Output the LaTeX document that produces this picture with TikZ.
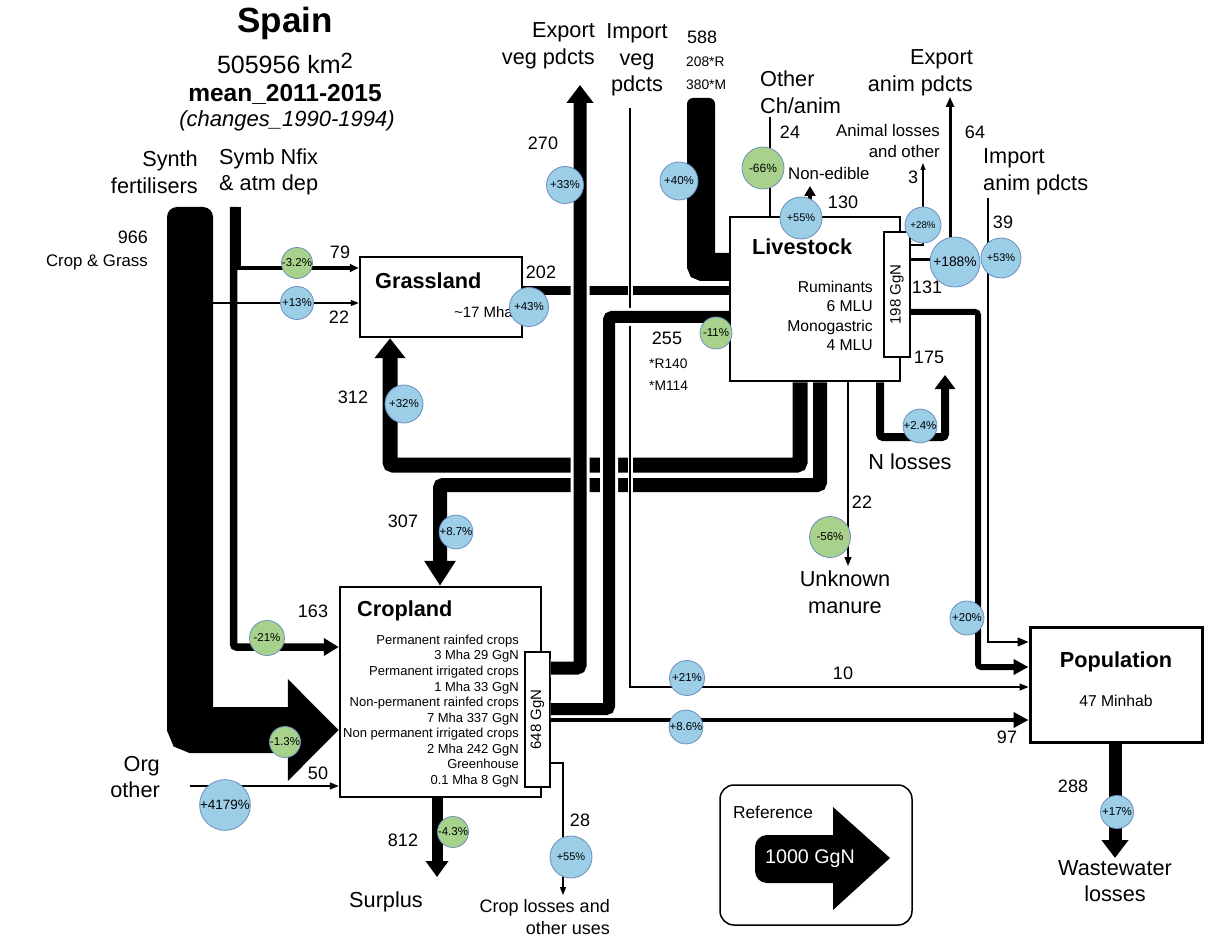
\documentclass[tikz,border=0pt]{standalone}
\usepackage{fontspec}
\setmainfont{Liberation Sans}
\usepackage{graphicx}
\usetikzlibrary{arrows.meta}

\definecolor{pctblue}{RGB}{156,206,231}
\definecolor{pctgreen}{RGB}{168,210,140}
\definecolor{pctedge}{RGB}{108,142,191}

\begin{document}
\begin{tikzpicture}[x=1pt, y=-1pt,
    box/.style={draw, line width=2.5pt, fill=white, inner sep=0pt},
    gbox/.style={draw, line width=1.2pt, fill=white, inner sep=0pt,
                 font=\fontsize{15}{18}\selectfont},
    pcb/.style={circle, draw=pctedge, fill=pctblue, line width=0.8pt,
                inner sep=0pt, minimum size=#1, font=\fontsize{11.5}{12}\selectfont},
    pcg/.style={pcb=#1, fill=pctgreen},
    lab/.style={inner sep=0pt, font=\fontsize{21.7}{26.5}\selectfont},
    num/.style={inner sep=0pt, font=\fontsize{18}{22}\selectfont},
    sml/.style={inner sep=0pt, font=\fontsize{16.8}{21}\selectfont},
    tny/.style={inner sep=0pt, font=\fontsize{13.8}{17}\selectfont},
    halo/.style={preaction={draw=white, line width=#1, -}},
    flow/.style={draw, line width=#1, line cap=butt}]
  \useasboundingbox (0,0) rectangle (1232,941);

  % title
  \node[inner sep=0pt, font=\bfseries\fontsize{35}{40}\selectfont] (title) at (285,23) {Spain};
  \node[inner sep=0pt, font=\fontsize{25}{30}\selectfont] (area) at (285,63)
       {505956 km\raisebox{5pt}{\fontsize{22}{22}\selectfont 2}};
  \node[inner sep=0pt, font=\bfseries\fontsize{24.5}{30}\selectfont] (period) at (285,94) {mean\_2011-2015};
  \node[inner sep=0pt, font=\itshape\fontsize{22}{26}\selectfont] (change) at (287,121) {(changes\_1990-1994)};

  % boxes
  \node[box, minimum width=162pt, minimum height=80pt] (grass) at (441,297) {};
  \node[box, minimum width=170pt, minimum height=164pt] (live) at (815,299) {};
  \node[box, minimum width=201pt, minimum height=210pt] (crop) at (440.5,692) {};
  \node[box, line width=3pt, minimum width=172pt, minimum height=115pt] (pop) at (1116,684.5) {};

  % synthetic fertilisers
  \fill[rounded corners=10pt] (167,207) rectangle (213,245);
  \coordinate (sf) at (190,235);
  \coordinate (sfy) at (0,730);
  \draw[flow=46pt, rounded corners=4pt, -{Triangle[width=99pt,length=51pt]}]
       (sf) |- (crop.west |- sfy);
  \coordinate (s22) at (213,303);
  \draw[flow=1.2pt, -{Triangle[width=6pt,length=8pt]}] (s22) -- (grass.west |- s22);

  % symbiotic fixation
  \coordinate (sy) at (233.5,207);
  \coordinate (sy163) at (0,647);
  \draw[flow=7.5pt, rounded corners=3pt, -{Triangle[width=17pt,length=15pt]}]
       (sy) |- (crop.west |- sy163);
  \coordinate (sy79) at (239,207);
  \coordinate (g79) at (0,268);
  \draw[flow=3.5pt, -{Triangle[width=8pt,length=9pt]}] (sy79) |- (grass.west |- g79);

  % organic other
  \coordinate (org) at (190,786);
  \draw[flow=1.5pt, -{Triangle[width=7pt,length=9pt]}] (org) -- (crop.west |- org);

  % manure to grassland and cropland
  \coordinate (m1) at (800,465);
  \coordinate (m2) at (390,465);
  \draw[flow=15pt, rounded corners=3pt, -{Triangle[width=30pt,length=20pt]}]
       (live.south -| m1) -- (m1) -- (m2) -- (grass.south -| m2);
  \coordinate (n1) at (820,485);
  \coordinate (n2) at (440,485);
  \draw[flow=14pt, rounded corners=3pt, -{Triangle[width=30pt,length=25pt]}]
       (live.south -| n1) -- (n1) -- (n2) -- (crop.north -| n2);

  % grassland to livestock
  \coordinate (g202) at (0,291);
  \draw[flow=9pt] (grass.east |- g202) -- (live.west |- g202);

  % imported feed
  \fill[rounded corners=6pt] (687,98) rectangle (715,125);
  \coordinate (imf) at (701,118);
  \coordinate (imf2) at (0,267);
  \draw[flow=28pt, rounded corners=2pt] (imf) |- (live.west |- imf2);

  % GgN boxes
  \node[gbox, minimum width=26pt, minimum height=125pt] (liveg) at (897,294.5) {\rotatebox{90}{198 GgN}};
  \node[gbox, minimum width=25pt, minimum height=135pt] (cropg) at (537.5,719.5) {\rotatebox{90}{648 GgN}};

  % crop exports, imports and feed
  \coordinate (ev) at (580,85);
  \coordinate (ev2) at (0,668);
  \draw[flow=13pt, halo=19pt, rounded corners=3pt, -{Triangle[width=26pt,length=18pt]}]
       (cropg.east |- ev2) -| (ev);
  \coordinate (iv) at (630,108);
  \coordinate (iv2) at (0,687);
  \draw[flow=1.2pt, halo=5pt, -{Triangle[width=7pt,length=9pt]}] (iv) |- (pop.west |- iv2);
  \coordinate (fd) at (609,317);
  \coordinate (fd2) at (0,709);
  \draw[flow=12pt, halo=18pt, rounded corners=3pt]
       (cropg.east |- fd2) -| (fd) -- (live.west |- fd);

  % cropland outputs
  \coordinate (c97) at (0,720);
  \draw[flow=4.5pt, -{Triangle[width=15pt,length=15pt]}] (cropg.east |- c97) -- (pop.west |- c97);
  \coordinate (cl) at (563,895);
  \coordinate (cl2) at (0,763);
  \draw[flow=1.2pt, -{Triangle[width=6pt,length=8pt]}] (cropg.east |- cl2) -| (cl);
  \coordinate (sp) at (437,877);
  \draw[flow=11pt, -{Triangle[width=22pt,length=16pt]}] (crop.south -| sp) -- (sp);
  \coordinate (ww) at (1115,858);
  \draw[flow=13pt, -{Triangle[width=26pt,length=18pt]}] (pop.south -| ww) -- (ww);

  % livestock flows
  \coordinate (oc) at (770,117);
  \draw[flow=1.3pt] (oc) -- (live.north -| oc);
  \coordinate (ne) at (810,186);
  \draw[flow=3.5pt, -{Triangle[width=11pt,length=10pt]}] (live.north -| ne) -- (ne);
  \coordinate (al) at (923,163);
  \coordinate (al2) at (0,245);
  \draw[flow=1.2pt, -{Triangle[width=5pt,length=7pt]}] (liveg.east |- al2) -| (al);
  \coordinate (ea) at (950,97);
  \coordinate (ea2) at (0,260);
  \draw[flow=3pt, -{Triangle[width=8pt,length=10pt]}] (liveg.east |- ea2) -| (ea);
  \coordinate (ia) at (988,198);
  \coordinate (ia2) at (0,642);
  \draw[flow=1.3pt, -{Triangle[width=9pt,length=11pt]}] (ia) |- (pop.west |- ia2);
  \coordinate (lp) at (978,312);
  \coordinate (lp2) at (0,667);
  \draw[flow=6pt, rounded corners=3pt, -{Triangle[width=15pt,length=15pt]}]
       (liveg.east |- lp) -- (lp) |- (pop.west |- lp2);
  \coordinate (nl1) at (880,437);
  \coordinate (nl2) at (945,375);
  \draw[flow=8pt, rounded corners=3pt, -{Triangle[width=20pt,length=14pt]}]
       (live.south -| nl1) -- (nl1) -| (nl2);
  \coordinate (um) at (848,566);
  \draw[flow=1.2pt, -{Triangle[width=7pt,length=9pt]}] (live.south -| um) -- (um);

  % box texts
  \node[inner sep=0pt, anchor=west, font=\bfseries\fontsize{21.7}{26}\selectfont] (grasst) at (375,281) {Grassland};
  \node[inner sep=0pt, anchor=east, font=\fontsize{15}{18}\selectfont] (grassa) at (513,312) {\textasciitilde 17 Mha};
  \node[inner sep=0pt, anchor=west, font=\bfseries\fontsize{21.7}{26}\selectfont] (livet) at (752,247) {Livestock};
  \node[inner sep=0pt, anchor=east, align=right, font=\fontsize{15.7}{19.3}\selectfont] (livei) at (873,316)
       {Ruminants\\6 MLU\\Monogastric\\4 MLU};
  \node[inner sep=0pt, anchor=west, font=\bfseries\fontsize{21.7}{26}\selectfont] (cropt) at (357,611) {Cropland};
  \node[inner sep=0pt, anchor=east, align=right, font=\fontsize{13}{15.55}\selectfont] (cropi) at (519,711)
       {Permanent rainfed crops\\3 Mha 29 GgN\\Permanent irrigated crops\\1 Mha 33 GgN\\
        Non-permanent rainfed crops\\7 Mha 337 GgN\\Non permanent irrigated crops\\2 Mha 242 GgN\\
        Greenhouse\\0.1 Mha 8 GgN};
  \node[inner sep=0pt, font=\bfseries\fontsize{21.7}{26}\selectfont] (popt) at (1116,662) {Population};
  \node[inner sep=0pt, font=\fontsize{15.7}{19}\selectfont] (popn) at (1116,701) {47 Minhab};

  % end labels
  \node[lab, anchor=east, align=right] (synth) at (198,172) {Synth\\fertilisers};
  \node[lab, anchor=west, align=left] (symb) at (219,172) {Symb Nfix\\\& atm dep};
  \node[lab, anchor=east, align=right] (expveg) at (595,46) {Export\\veg pdcts};
  \node[lab, align=center] (impveg) at (637,60) {Import\\veg\\pdcts};
  \node[lab, anchor=west, align=left] (other) at (760,92) {Other\\Ch/anim};
  \node[sml, anchor=west] (nonedi) at (788,173) {Non-edible};
  \node[sml, anchor=east, align=right] (anloss) at (940,141) {Animal losses\\and other};
  \node[lab, anchor=east, align=right] (expanim) at (973,73) {Export\\anim pdcts};
  \node[lab, anchor=west, align=left] (impanim) at (983,172) {Import\\anim pdcts};
  \node[lab] (nloss) at (910,462) {N losses};
  \node[lab, align=center] (unkman) at (845,592) {Unknown\\manure};
  \node[lab, align=center] (wwl) at (1115,881) {Wastewater\\losses};
  \node[lab] (surplus) at (386,902) {Surplus};
  \node[inner sep=0pt, anchor=east, align=right, font=\fontsize{18}{22}\selectfont] (closs) at (610,917)
       {Crop losses and\\other uses};
  \node[lab, anchor=east, align=right] (orgl) at (160,777) {Org\\other};

  % flow values
  \node[num, anchor=east] (v966) at (148,237) {966};
  \node[sml, anchor=east] (v966b) at (148,262) {Crop \& Grass};
  \node[num] (v79) at (340,252) {79};
  \node[num] (v22) at (339,317) {22};
  \node[num] (v202) at (541,272) {202};
  \node[num] (v312) at (353,397) {312};
  \node[num] (v270) at (543,143) {270};
  \node[num, anchor=west] (v588) at (687,37) {588};
  \node[tny, anchor=west] (v588r) at (686,62) {208*R};
  \node[tny, anchor=west] (v588m) at (686,85) {380*M};
  \node[num] (v24) at (790,132) {24};
  \node[num] (v130) at (843,202) {130};
  \node[num] (v3) at (913,177) {3};
  \node[num] (v64) at (975,132) {64};
  \node[num] (v39) at (1003,222) {39};
  \node[num] (v131) at (927,287) {131};
  \node[num] (v175) at (929,357) {175};
  \node[num] (v255) at (667,338) {255};
  \node[tny, anchor=west] (v255r) at (649,364) {*R140};
  \node[tny, anchor=west] (v255m) at (649,386) {*M114};
  \node[num] (v22m) at (862,502) {22};
  \node[num] (v307) at (403,521) {307};
  \node[num] (v163) at (313,611) {163};
  \node[num] (v50) at (318,773) {50};
  \node[num] (v812) at (403,840) {812};
  \node[num] (v28) at (580,820) {28};
  \node[num] (v10) at (843,673) {10};
  \node[num] (v97) at (1007,737) {97};
  \node[num] (v288) at (1073,786) {288};

  % changes
  \node[pcg=30pt] (d79) at (297,263) {-3.2\%};
  \node[pcb=33pt] (d22) at (297,303) {+13\%};
  \node[pcb=39pt] (d202) at (529,307) {+43\%};
  \node[pcb=38pt] (d312) at (404,404) {+32\%};
  \node[pcb=37pt] (dexpveg) at (565,185) {+33\%};
  \node[pcb=38pt] (dimpfeed) at (679,181) {+40\%};
  \node[pcg=42pt, font=\fontsize{12}{12}\selectfont] (dother) at (763,168) {-66\%};
  \node[pcb=42pt, font=\fontsize{11}{12}\selectfont] (dnonedi) at (801,218) {+55\%};
  \node[pcb=36pt, font=\fontsize{9.7}{10}\selectfont] (danloss) at (923,225) {+28\%};
  \node[pcb=50pt, font=\fontsize{13.8}{14}\selectfont] (dexpanim) at (955,262) {+188\%};
  \node[pcb=40pt, font=\fontsize{11}{12}\selectfont] (dimpanim) at (1001,258) {+53\%};
  \node[pcg=32pt] (dfeed) at (716,333) {-11\%};
  \node[pcg=41pt] (dmanure) at (830,537) {-56\%};
  \node[pcb=31pt] (dnloss) at (920,426) {+2.4\%};
  \node[pcb=34pt] (dpop131) at (967,618) {+20\%};
  \node[pcb=35pt] (dimpveg) at (687,678) {+21\%};
  \node[pcb=32pt] (d97) at (686,727) {+8.6\%};
  \node[pcb=33pt] (dww) at (1117,812) {+17\%};
  \node[pcg=35pt] (d163) at (267,638) {-21\%};
  \node[pcg=30pt] (d966) at (285,742) {-1.3\%};
  \node[pcb=50pt, font=\fontsize{13.5}{14}\selectfont] (dorg) at (225,805) {+4179\%};
  \node[pcg=31pt] (dsurplus) at (453,832) {-4.3\%};
  \node[pcb=42pt, font=\fontsize{11}{12}\selectfont] (dcloss) at (571,857) {+55\%};
  \node[pcb=30pt] (d307) at (456,532) {+8.7\%};

  % reference
  \node[draw, line width=1.5pt, rounded corners=14pt, minimum width=192pt, minimum height=140pt] (refbox) at (816,855) {};
  \fill[rounded corners=12pt] (845,835) -- (755,835) -- (755,883) -- (845,883) -- cycle;
  \fill (833,807) -- (890,858) -- (833,910) -- cycle;
  \node[inner sep=0pt, font=\fontsize{17.3}{20}\selectfont] (reft) at (773,812) {Reference};
  \node[inner sep=0pt, text=white, font=\fontsize{19.7}{22}\selectfont] (refv) at (810,859) {1000 GgN};
\end{tikzpicture}
\end{document}
